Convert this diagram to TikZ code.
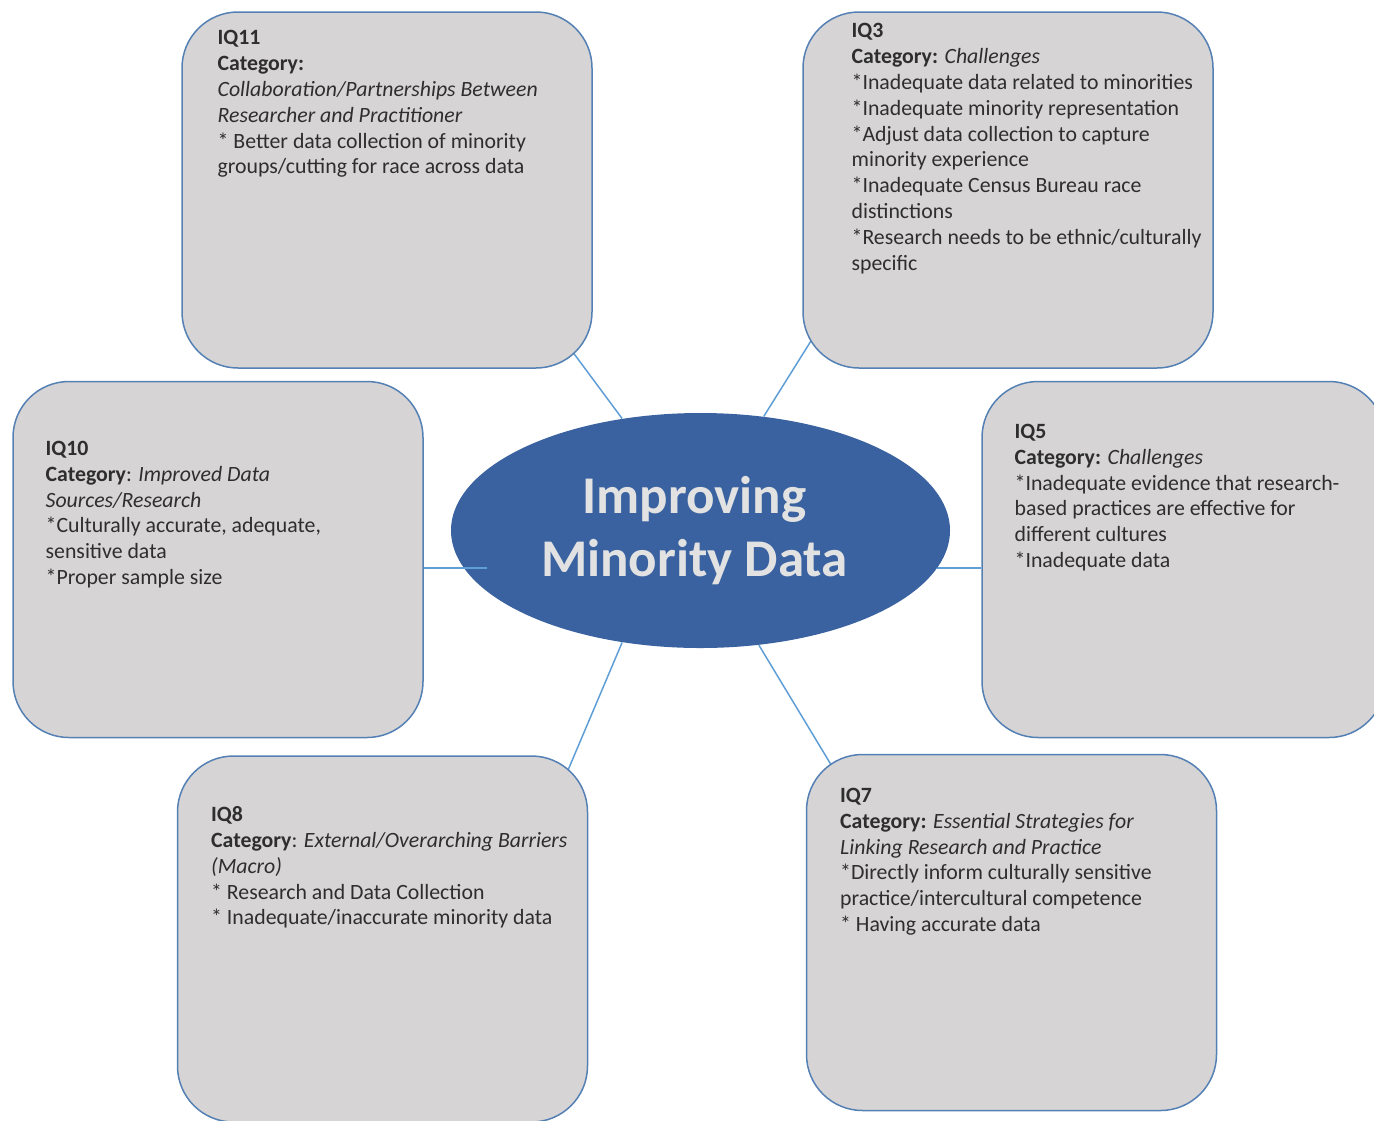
\documentclass[tikz,border=0pt]{standalone}
\usepackage{fontspec}
\setmainfont{Carlito}
\usetikzlibrary{shapes.geometric,positioning,calc,backgrounds}
\definecolor{boxfill}{RGB}{214,212,213}
\definecolor{boxline}{RGB}{84,128,180}
\definecolor{spokeblue}{RGB}{96,158,214}
\definecolor{hubblue}{RGB}{58,98,160}
\definecolor{hubtext}{RGB}{226,226,226}
\tikzset{
  qbox/.style  = { draw=boxline, fill=boxfill, line width=0.75pt, rounded corners=28pt,
    inner sep=0pt, minimum width=205pt, minimum height=178pt },
  qtext/.style = { anchor=north west, align=left, inner sep=0pt, text=black!82,
    font=\fontsize{10.9}{12.9}\selectfont },
  hub/.style   = { ellipse, fill=hubblue, text=hubtext, inner sep=0pt, align=center,
    minimum width=249.5pt, minimum height=117.5pt,
    font=\bfseries\fontsize{26.5}{31.5}\selectfont },
  spoke/.style = { draw=spokeblue, line width=0.75pt }
}
\begin{document}
\begin{tikzpicture}[x=0.5pt,y=-0.5pt]
    \useasboundingbox (0,0) rectangle (1374,1120);
    \clip (0,0) rectangle (1374,1120);
    % centre
    \node[hub] (hub) at (700.5,530.5) {Improving\hspace*{6pt}\\Minority Data\hspace*{6pt}};

    % question boxes
    \node[qbox] (iq11) at (387,190) {};
    \node[qbox] (iq3) at (1008,190) {};
    \node[qbox] (iq10) at (218,559.5) {};
    \node[qbox, minimum width=201.5pt] (iq5) at (1183.5,559.5) {};
    \node[qbox, minimum height=183pt] (iq8) at (382.5,939) {};
    \node[qbox] (iq7) at (1011.5,932.5) {};

    \node[qtext] (t11) at ($(iq11.north west)+(36,19)$) {\textbf{IQ11}\\
      \textbf{Category:}\\
      \textit{Collaboration/Partnerships Between}\\
      \textit{Researcher and Practitioner}\\
      * Better data collection of minority\\
      groups/cutting for race across data};
    \node[qtext] (t3) at ($(iq3.north west)+(49,12)$) {\textbf{IQ3}\\
      \textbf{Category:} \textit{Challenges}\\
      *Inadequate data related to minorities\\
      *Inadequate minority representation\\
      *Adjust data collection to capture\\
      minority experience\\
      *Inadequate Census Bureau race\\
      distinctions\\
      *Research needs to be ethnic/culturally\\
      specific};
    \node[qtext] (t10) at ($(iq10.north west)+(33,60)$) {\textbf{IQ10}\\
      \textbf{Category}: \textit{Improved Data}\\
      \textit{Sources/Research}\\
      *Culturally accurate, adequate,\\
      sensitive data\\
      *Proper sample size};
    \node[qtext] (t5) at ($(iq5.north west)+(33,43)$) {\textbf{IQ5}\\
      \textbf{Category:} \textit{Challenges}\\
      *Inadequate evidence that research-\\
      based practices are effective for\\
      different cultures\\
      *Inadequate data};
    \node[qtext] (t8) at ($(iq8.north west)+(34,51)$) {\textbf{IQ8}\\
      \textbf{Category}: \textit{External/Overarching Barriers}\\
      \textit{(Macro)}\\
      * Research and Data Collection\\
      * Inadequate/inaccurate minority data};
    \node[qtext] (t7) at ($(iq7.north west)+(34,34)$) {\textbf{IQ7}\\
      \textbf{Category:} \textit{Essential Strategies for}\\
      \textit{Linking Research and Practice}\\
      *Directly inform culturally sensitive\\
      practice/intercultural competence\\
      * Having accurate data};

    % spokes
    \begin{scope}[on background layer]
      \draw[spoke] (hub.125) -- ($(iq11.south east)+(-38,-41)$);
      \draw[spoke] (hub.61) -- ($(iq3.south west)+(27,-57)$);
      \draw[spoke] (hub.351) -- (hub.351 -| iq5.west);
      \draw[spoke] (hub.235) -- ($(iq8.north east)+(-33,45)$);
      \draw[spoke] (hub.297) -- ($(iq7.north west)+(38,32)$);
    \end{scope}
    \draw[spoke] ($(hub.189)+(23,0)$) -- (hub.189 -| iq10.east);
\end{tikzpicture}
\end{document}
